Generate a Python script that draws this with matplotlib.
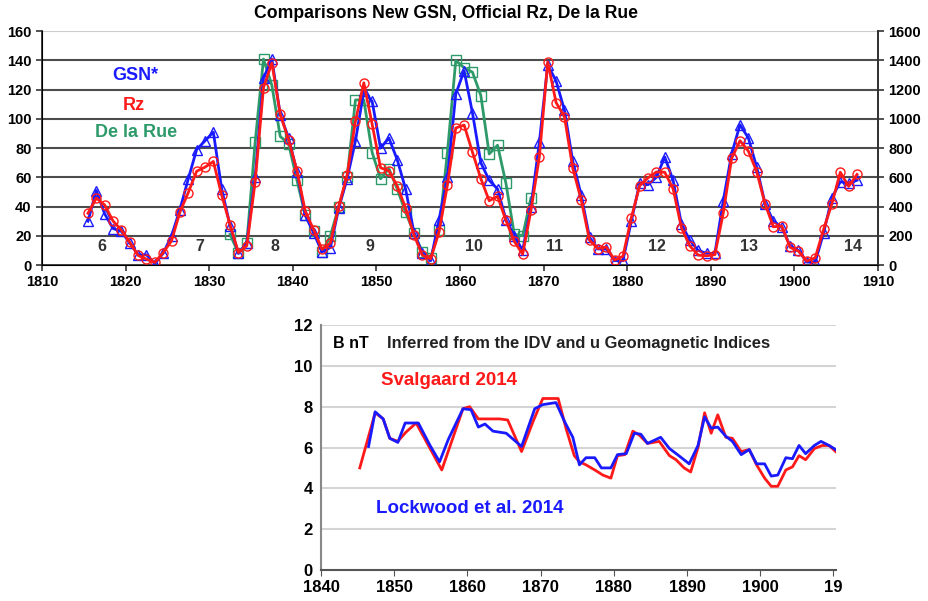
import matplotlib
matplotlib.use("Agg")

import matplotlib.pyplot as plt


# =====================================================
# DATA - TOP PANEL (yearly means, plotted at mid-year)
# =====================================================

years_top = list(range(1815, 1908))

gsn = [
    30, 51, 35, 25, 23, 15, 7, 7, 1, 8,
    20, 38, 59, 79, 85, 91, 52, 27, 8, 15,
    60, 128, 141, 103, 87, 64, 34, 22, 9, 12,
    39, 59, 85, 119, 112, 80, 87, 72, 52, 22,
    8, 3, 31, 60, 117, 133, 104, 70, 58, 52,
    31, 20, 10, 40, 84, 137, 126, 106, 71, 48,
    19, 11, 11, 3, 3, 30, 56, 55, 60, 74,
    58, 28, 17, 10, 8, 8, 44, 76, 96, 87,
    67, 42, 30, 26, 13, 10, 2, 2, 22, 46,
    57, 56, 58
]

rz = [
    35.4, 45.8, 41.1, 30.1, 23.9, 15.6, 6.6, 4.0, 1.8, 8.5,
    16.6, 36.3, 49.6, 64.2, 67.0, 70.9, 47.8, 27.5, 8.5, 13.2,
    56.9, 121.5, 138.3, 103.2, 85.7, 64.6, 36.7, 24.2, 10.7, 15.0,
    40.1, 61.5, 98.5, 124.7, 96.3, 66.6, 64.5, 54.1, 39.0, 20.6,
    6.7, 4.3, 22.7, 54.8, 93.8, 95.8, 77.2, 59.1, 44.0, 47.0,
    30.5, 16.3, 7.3, 37.6, 74.0, 139.0, 111.2, 101.6, 66.2, 44.7,
    17.0, 11.3, 12.4, 3.4, 6.0, 32.3, 54.3, 59.7, 63.7, 63.5,
    52.2, 25.4, 13.1, 6.8, 6.3, 7.1, 35.6, 73.0, 85.1, 78.0,
    64.0, 41.8, 26.2, 26.7, 12.1, 9.5, 2.7, 5.0, 24.4, 42.0,
    63.5, 53.8, 62.0
]

years_rue = list(range(1832, 1869))

de_la_rue = [
    21, 8, 15, 84, 141, 123, 88, 83, 58, 34,
    23, 9, 20, 40, 60, 113, 113, 77, 59, 66,
    52, 36, 22, 9, 5, 24, 77, 140, 135, 132,
    116, 76, 82, 56, 21, 20, 46
]

cycle_numbers = ["6", "7", "8", "9", "10", "11", "12", "13", "14"]
cycle_years = [1817.2, 1828.9, 1837.9, 1849.2, 1861.7, 1871.3, 1883.6, 1894.6, 1907.0]


# =====================================================
# DATA - BOTTOM PANEL (B in nT)
# =====================================================

years_svalgaard = [
    1845.3, 1847.4, 1848.5, 1849.4, 1850.5, 1851.6, 1853.0, 1856.5, 1858.0, 1859.4,
    1860.3, 1861.5, 1864.4, 1865.5, 1867.4, 1869.0, 1870.3, 1872.4, 1873.5, 1874.6,
    1875.3, 1876.2, 1877.4, 1878.5, 1879.6, 1880.5, 1881.5, 1882.6, 1883.5, 1884.6,
    1886.2, 1887.6, 1888.5, 1889.6, 1890.5, 1891.5, 1892.4, 1893.3, 1894.2, 1895.3,
    1896.2, 1897.4, 1898.5, 1899.5, 1900.6, 1901.5, 1902.4, 1903.5, 1904.4, 1905.3,
    1906.2, 1907.4, 1908.5, 1909.4, 1910.3
]

b_svalgaard = [
    5.0, 7.7, 7.4, 6.45, 6.3, 6.75, 7.2, 4.9, 6.45, 7.9,
    8.0, 7.4, 7.4, 7.35, 5.8, 7.3, 8.4, 8.4, 6.9, 5.6,
    5.3, 5.15, 4.9, 4.65, 4.5, 5.6, 5.65, 6.8, 6.6, 6.2,
    6.3, 5.6, 5.4, 5.0, 4.8, 6.0, 7.7, 6.7, 7.6, 6.5,
    6.45, 5.8, 5.9, 5.15, 4.5, 4.1, 4.1, 4.9, 5.05, 5.6,
    5.4, 5.95, 6.1, 6.1, 5.8
]

years_lockwood = [
    1846.5, 1847.4, 1848.5, 1849.4, 1850.5, 1851.5, 1853.3, 1854.9, 1856.2, 1857.4,
    1859.4, 1860.5, 1861.5, 1862.4, 1863.5, 1865.3, 1867.4, 1869.2, 1870.3, 1872.1,
    1873.3, 1874.4, 1875.3, 1876.2, 1877.4, 1878.3, 1879.6, 1880.5, 1881.7, 1882.8,
    1883.7, 1884.6, 1886.4, 1887.6, 1888.7, 1890.3, 1891.5, 1892.4, 1893.3, 1894.2,
    1895.3, 1896.2, 1897.4, 1898.5, 1899.5, 1900.6, 1901.5, 1902.4, 1903.5, 1904.4,
    1905.3, 1906.2, 1907.4, 1908.3, 1909.4, 1910.3
]

b_lockwood = [
    6.05, 7.75, 7.4, 6.45, 6.25, 7.2, 7.2, 6.1, 5.3, 6.4,
    7.9, 7.85, 7.0, 7.15, 6.8, 6.7, 6.05, 7.9, 8.1, 8.2,
    7.25, 6.5, 5.15, 5.5, 5.5, 5.0, 5.0, 5.65, 5.7, 6.7,
    6.65, 6.2, 6.5, 5.95, 5.65, 5.2, 6.1, 7.5, 6.95, 7.0,
    6.55, 6.3, 5.65, 5.9, 5.2, 5.2, 4.6, 4.65, 5.5, 5.45,
    6.1, 5.7, 6.1, 6.3, 6.1, 5.9
]


# =====================================================
# STYLE
# =====================================================

plt.rcParams["font.family"] = ["Liberation Sans", "DejaVu Sans"]
plt.rcParams["font.weight"] = "bold"

BLUE = "#1a1aff"
RED = "#ff1a1a"
GREEN = "#2e9a6a"

fig = plt.figure(figsize=(9.29, 6.01), dpi=100)


# =====================================================
# TOP PANEL
# =====================================================

ax = fig.add_axes([0.0452, 0.559, 0.8998, 0.389])

x_top = [y + 0.5 for y in years_top]
x_rue = [y + 0.5 for y in years_rue]

ax.plot(
    x_top, gsn,
    color=BLUE, lw=2, marker="^", ms=7.5,
    mfc="none", mec=BLUE, mew=1, zorder=4
)

ax.plot(
    x_top, rz,
    color=RED, lw=2, marker="o", ms=6.5,
    mfc="none", mec=RED, mew=1, zorder=5
)

ax.plot(
    x_rue, de_la_rue,
    color=GREEN, lw=2, marker="s", ms=7,
    mfc="none", mec=GREEN, mew=1, zorder=3
)

ax.set_xlim(1810, 1910)
ax.set_ylim(0, 160)
ax.set_xticks(range(1810, 1911, 10))
ax.set_yticks(range(0, 161, 20))

for v in range(20, 141, 20):
    ax.axhline(v, color="#4d4d4d", lw=1.5, zorder=1)
ax.axhline(160, color="#cccccc", lw=1.5, zorder=1)

ax.spines["top"].set_visible(False)
for side in ["left", "bottom", "right"]:
    ax.spines[side].set_color("#333333")
    ax.spines[side].set_linewidth(1.3)

ax.tick_params(
    axis="both", direction="out", length=4,
    width=1.2, color="#333333", labelsize=10.5
)

ax2 = ax.twinx()
ax2.set_ylim(0, 1600)
ax2.set_yticks(range(0, 1601, 200))
ax2.spines["top"].set_visible(False)
ax2.spines["right"].set_color("#333333")
ax2.spines["right"].set_linewidth(1.3)
ax2.tick_params(
    axis="y", direction="out", length=4,
    width=1.2, color="#333333", labelsize=10.5
)

for lbl, yr in zip(cycle_numbers, cycle_years):
    ax.text(
        yr, 12.5, lbl,
        ha="center", va="center",
        fontsize=11.5, fontweight="bold", color="#333333"
    )

ax.text(1821.2, 130, "GSN*", color=BLUE, fontsize=13,
        fontweight="bold", ha="center", va="center")
ax.text(1821.0, 109.5, "Rz", color=RED, fontsize=13,
        fontweight="bold", ha="center", va="center")
ax.text(1821.3, 91, "De la Rue", color=GREEN, fontsize=13,
        fontweight="bold", ha="center", va="center")

fig.text(
    0.48, 0.978,
    "Comparisons New GSN, Official Rz, De la Rue",
    ha="center", va="center", fontsize=12.7, fontweight="bold"
)


# =====================================================
# BOTTOM PANEL
# =====================================================

bx = fig.add_axes([0.3455, 0.0516, 0.554, 0.4076])

bx.plot(years_svalgaard, b_svalgaard, color=RED, lw=2, zorder=3)
bx.plot(years_lockwood, b_lockwood, color=BLUE, lw=2, zorder=4)

bx.set_xlim(1840, 1910.3)
bx.set_ylim(0, 12)
bx.set_yticks(range(0, 13, 2))
bx.set_xticks(range(1840, 1911, 10))
bx.set_xticklabels(
    ["1840", "1850", "1860", "1870", "1880", "1890", "1900", "19"]
)

for v in range(2, 13, 2):
    bx.axhline(v, color="#d4d4d4", lw=1.5, zorder=1)

bx.spines["top"].set_visible(False)
bx.spines["right"].set_visible(False)
bx.spines["left"].set_color("#888888")
bx.spines["left"].set_linewidth(1.5)
bx.spines["bottom"].set_color("#555555")
bx.spines["bottom"].set_linewidth(1.5)

bx.tick_params(axis="y", length=0, labelsize=12, pad=6)
bx.tick_params(axis="x", direction="out", length=4,
               color="#555555", labelsize=12)

bx.text(1841.6, 11.1, "B nT", fontsize=11.5, fontweight="bold",
        ha="left", va="center")
bx.text(1849.0, 11.1, "Inferred from the IDV and u Geomagnetic Indices",
        fontsize=11.9, fontweight="bold", ha="left", va="center",
        color="#222222")
bx.text(1848.2, 9.3, "Svalgaard 2014", color=RED, fontsize=13.5,
        fontweight="bold", ha="left", va="center")
bx.text(1847.5, 3.0, "Lockwood et al. 2014", color=BLUE, fontsize=13.5,
        fontweight="bold", ha="left", va="center")

fig.savefig("out.png", dpi=100)
